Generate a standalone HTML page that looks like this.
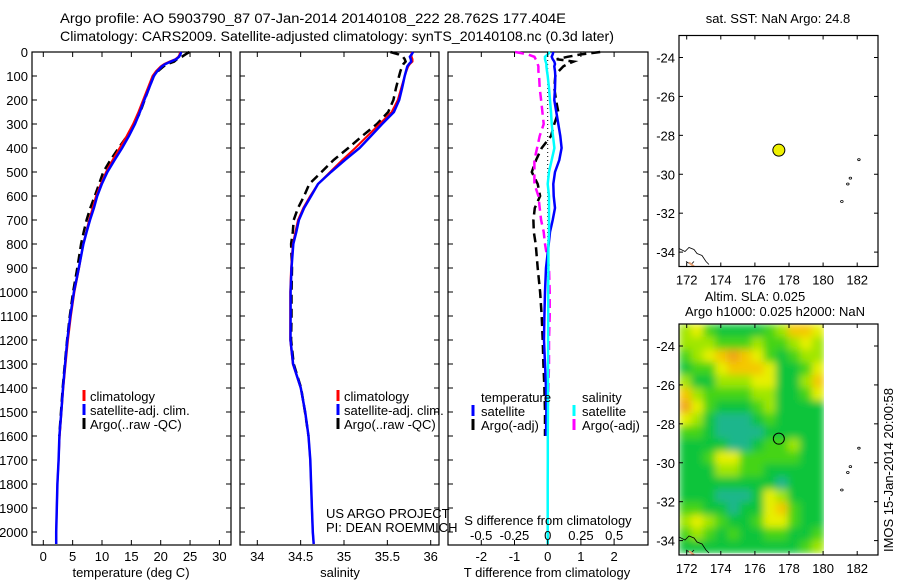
<!DOCTYPE html>
<html><head><meta charset="utf-8"><style>
html,body{margin:0;padding:0;background:#fff;}
svg{display:block;font-family:"Liberation Sans",Arial,sans-serif;}
text{font-size:13px;fill:#000;}
</style></head><body>
<svg id="fig" width="900" height="580" viewBox="0 0 900 580" xmlns="http://www.w3.org/2000/svg">
<defs>
<filter id="blur" x="0" y="0" width="1" height="1"><feGaussianBlur stdDeviation="4" edgeMode="duplicate"/></filter>
<clipPath id="heatclip"><rect x="679" y="324" width="145" height="231"/></clipPath>
</defs>
<rect width="900" height="580" fill="#fff"/>
<text x="60" y="23" style="font-size:14px" textLength="506" lengthAdjust="spacingAndGlyphs">Argo profile: AO 5903790_87 07-Jan-2014 20140108_222 28.762S 177.404E</text>
<text x="60" y="41" style="font-size:14px" textLength="554" lengthAdjust="spacingAndGlyphs">Climatology: CARS2009. Satellite-adjusted climatology: synTS_20140108.nc (0.3d later)</text>
<g id="g"></g>
</svg>
<script>
// ---- profile data ----
const depths = [0,10,20,30,40,50,60,80,100,150,200,250,300,350,400,450,500,550,600,650,700,750,800,900,1000,1100,1200,1300,1400,1500,1600,1700,1800,1900,2000,2050];
const tempClim = [23.3,23.2,23.0,22.5,21.5,20.6,20.0,19.2,18.6,17.8,17.0,16.2,15.3,14.2,13.0,11.8,10.7,9.8,9.0,8.4,7.8,7.3,6.8,6.1,5.3,4.7,4.2,3.8,3.4,3.1,2.8,2.6,2.4,2.3,2.2,2.2];
const tempSatDiff = [0.17,0.15,0.12,0.15,0.2,0.22,0.2,0.22,0.23,0.22,0.2,0.26,0.32,0.38,0.42,0.35,0.22,0.17,0.18,0.22,0.15,0.07,0.03,-0.05,-0.08,-0.1,-0.11,-0.08,-0.05,-0.04,-0.05,null,null,null,null,null];
const tempArgoDiff = [1.58,1.0,0.6,0.27,0.78,0.6,0.47,0.33,0.23,0.2,0.25,0.32,0.2,0.1,-0.18,-0.35,-0.48,-0.3,-0.23,-0.39,-0.43,-0.42,-0.36,-0.3,-0.23,-0.18,-0.15,-0.13,-0.1,-0.08,-0.08,null,null,null,null,null];
const salClim = [35.78,35.78,35.78,35.79,35.79,35.76,35.74,35.72,35.70,35.66,35.62,35.55,35.41,35.27,35.13,34.98,34.84,34.70,34.61,34.53,34.47,34.44,34.41,34.39,34.38,34.38,34.38,34.41,34.5,34.55,34.59,34.61,34.62,34.63,34.64,34.65];
const salSatDiff = [0.017,0,-0.02,-0.02,-0.015,-0.01,-0.01,-0.005,0,0.01,0.017,0.025,0.03,0.04,0.05,0.03,0.01,0,0.01,0.01,0.01,0.01,0.005,0.005,0.004,0.004,0.003,0.003,0.002,0.002,0.001,0.001,0,0,0,0];
const salArgoDiff = [-0.245,-0.15,-0.1,-0.09,-0.08,-0.075,-0.07,-0.07,-0.065,-0.06,-0.05,-0.04,-0.03,-0.06,-0.08,-0.1,-0.1,-0.1,-0.07,-0.06,-0.05,-0.03,-0.02,0.01,0.015,0.015,0.01,0.01,0.005,0,0,null,null,null,null,null];
const depthTicks = [0,100,200,300,400,500,600,700,800,900,1000,1100,1200,1300,1400,1500,1600,1700,1800,1900,2000];
const tempTicks = [0,5,10,15,20,25,30];
const salTicks = [34,34.5,35,35.5,36];
const tdiffTicks = [-2,-1,0,1,2];
const sdiffTicks = [-0.5,-0.25,0,0.25,0.5];
// ---- map data ----
const lonTicks = [172,174,176,178,180,182];
const latTicks = [-24,-26,-28,-30,-32,-34];
const argoLon = 177.404, argoLat = -28.762;
const slaGrid = [
[3,4,2,1,1,1,1,2,3,5,5,4],
[3,3,3,2,2,2,3,2,2,3,4,3],
[2,3,4,5,6,5,4,2,1,2,3,3],
[1,2,2,4,5,5,5,4,1,1,2,4],
[3,1,1,3,3,3,4,4,1,1,3,5],
[5,3,2,2,2,2,3,3,1,1,2,4],
[6,4,2,1,1,1,2,3,1,1,1,1],
[4,3,1,0,0,0,1,2,1,1,1,1],
[2,2,1,0,0,0,0,1,1,1,1,1],
[1,1,1,1,0,0,1,2,2,3,1,1],
[1,1,2,4,4,2,2,2,2,2,1,1],
[1,1,1,3,3,2,2,1,1,1,1,1],
[1,1,1,1,1,1,1,1,0,1,1,1],
[1,1,1,0,0,0,1,4,3,1,1,1],
[2,2,1,1,0,1,1,4,5,2,1,1],
[3,4,3,2,1,1,2,4,4,2,1,1],
[2,3,2,1,2,1,1,2,2,1,1,2],
[1,1,1,1,1,1,1,1,1,1,2,3]];
const slaColors = ['#1cb68c','#10c43a','#44d418','#a0e600','#e6f000','#f4c800','#f0a414'];

const NS='http://www.w3.org/2000/svg';
const G=document.getElementById('g');
function el(tag,attrs,parent){const e=document.createElementNS(NS,tag);for(const k in attrs)e.setAttribute(k,attrs[k]);(parent||G).appendChild(e);return e;}
function txt(x,y,s,anchor,parent){const t=el('text',{x:x,y:y,'text-anchor':anchor||'start'},parent);t.textContent=s;return t;}

const yTop=52, yBot=545, pxPer=0.24;
const yD=d=>yTop+d*pxPer;
const panels=[
 {x0:32,x1:231,name:'temperature-panel',sx:v=>43.3+v*5.87},
 {x0:240,x1:439,name:'salinity-panel',sx:v=>257.3+(v-34)*86.7},
 {x0:448,x1:648,name:'difference-panel',sx:v=>547.7+v*33.2}
];
const sdx=v=>547.7+v*133;

panels.forEach((p,i)=>{
 const g=el('g',{});
 
 
 const r=el('rect',{x:p.x0,y:yTop,width:p.x1-p.x0,height:yBot-yTop,fill:'none',stroke:'#000','stroke-width':1.2},g);
 
 
 depthTicks.forEach(d=>{
  const y=yD(d);
  el('line',{x1:p.x0,x2:p.x0+5,y1:y,y2:y,stroke:'#000'},g);
  el('line',{x1:p.x1,x2:p.x1-5,y1:y,y2:y,stroke:'#000'},g);
  if(i===0){const t=txt(28,y+5,String(d),'end',g);}
 });
});

function drawLine(xs,ys,stroke,w,dash,name){
 let d='',pen=false;
 for(let k=0;k<xs.length;k++){
  if(xs[k]===null){pen=false;continue;}
  d+=(pen?'L':'M')+xs[k].toFixed(1)+' '+ys[k].toFixed(1);pen=true;
 }
 const a={d:d,fill:'none',stroke:stroke,'stroke-width':w};
 if(dash)a['stroke-dasharray']=dash;
 const p=el('path',a);
 
 
}
const Y=depths.map(yD);
const P1=panels[0],P2=panels[1],P3=panels[2];
drawLine(depths.map((d,k)=>tempArgoDiff[k]===null?null:P1.sx(tempClim[k]+tempArgoDiff[k])),Y,'#000',2.5,'9 5','temperature-argo-line');
drawLine(tempClim.map(v=>P1.sx(v)),Y,'#f00',2,null,'temperature-climatology-line');
drawLine(depths.map((d,k)=>P1.sx(tempClim[k]+(tempSatDiff[k]||0))),Y,'#00f',2.5,null,'temperature-satellite-line');
drawLine(depths.map((d,k)=>salArgoDiff[k]===null?null:P2.sx(salClim[k]+salArgoDiff[k])),Y,'#000',2.5,'9 5','salinity-argo-line');
drawLine(salClim.map(v=>P2.sx(v)),Y,'#f00',2,null,'salinity-climatology-line');
drawLine(depths.map((d,k)=>P2.sx(salClim[k]+salSatDiff[k])),Y,'#00f',2.5,null,'salinity-satellite-line');
el('line',{x1:P3.sx(0),x2:P3.sx(0),y1:yTop,y2:yBot,stroke:'#000','stroke-dasharray':'1 3'});
drawLine(tempArgoDiff.map(v=>v===null?null:P3.sx(v)),Y,'#000',2.5,'9 5','temp-diff-argo-line');
drawLine(salArgoDiff.map(v=>v===null?null:sdx(v)),Y,'#f0f',2.5,'9 5','sal-diff-argo-line');
drawLine(tempSatDiff.map(v=>v===null?null:P3.sx(v)),Y,'#00f',2.5,null,'temp-diff-satellite-line');
drawLine(salSatDiff.map(v=>sdx(v)),Y,'#0ff',2.5,null,'sal-diff-satellite-line');

function xTicks(ticks,fx,labels){
 ticks.forEach(v=>{
  const x=fx(v);
  el('line',{x1:x,x2:x,y1:yBot,y2:yBot-5,stroke:'#000'});
  el('line',{x1:x,x2:x,y1:yTop,y2:yTop+5,stroke:'#000'});
  if(labels){const t=txt(x,561,String(v),'middle');}
 });
}
xTicks(tempTicks,P1.sx,true);
xTicks(salTicks,P2.sx,true);
xTicks(tdiffTicks,P3.sx,true);
sdiffTicks.forEach(v=>{const t=txt(sdx(v),540,String(v),'middle');});
let t;
t=txt(131,577,'temperature (deg C)','middle');
t=txt(340,577,'salinity','middle');
t=txt(547,577,'T difference from climatology','middle');
t=txt(548,525,'S difference from climatology','middle');
t=txt(326,518,'US ARGO PROJECT');
t=txt(326,532,'PI: DEAN ROEMMICH');

function legendEntry(bx,tx,y,color,label){
 const g=el('g',{});
 
 
 el('rect',{x:bx-1.5,y:y-11,width:3,height:11,fill:color},g);
 txt(tx,y,label,'start',g);
}
[[ '#f00','climatology'],['#00f','satellite-adj. clim.'],['#000','Argo(..raw -QC)']].forEach((e,k)=>{
 legendEntry(84,90,401+k*14,e[0],e[1]);
 legendEntry(338,344,401+k*14,e[0],e[1]);
});
t=txt(481,402,'temperature');
t=txt(582,402,'salinity');
legendEntry(473,481,416,'#00f','satellite');
legendEntry(473,481,430,'#000','Argo(-adj)');
legendEntry(574,582,416,'#0ff','satellite');
legendEntry(574,582,430,'#f0f','Argo(-adj)');

const mx=lon=>686.7+(lon-172)*17.05;
function drawMap(yOffTop,name,heat){
 const top=yOffTop, bot=yOffTop+231;
 const my=lat=>top+22+(-24-lat)*19.46;
 const g=el('g',{});
 
 
 if(heat){
  const cg=el('g',{'clip-path':'url(#heatclip)'},g);
  const hg=el('g',{filter:'url(#blur)'},cg);
  const cw=145/12, ch=(bot-top-2)/18;
  slaGrid.forEach((row,r)=>row.forEach((v,c)=>{
   const cell=el('rect',{x:679+c*cw,y:top+r*ch,width:cw+0.5,height:ch+0.5,fill:slaColors[v]},hg);
   
   
  }));
 }
 el('path',{d:`M679 ${bot-18} l6 3 l4 -4 l5 2 l3 4 l5 2 l4 6 l3 3 M686 ${bot-5} l5 3 l3 -3`,fill:'none',stroke:'#000','stroke-width':0.8},g);
 el('path',{d:`M689 ${bot-4} l5 4`,stroke:'#e8a070','stroke-width':2},g);
 [[182.1,-29.25],[181.6,-30.2],[181.45,-30.5],[181.1,-31.4]].forEach(p=>{
  el('ellipse',{cx:mx(p[0]),cy:my(p[1]),rx:1.3,ry:1,fill:'none',stroke:'#000','stroke-width':0.8},g);
 });
 const f=el('rect',{x:679,y:top,width:199,height:bot-top,fill:'none',stroke:'#000','stroke-width':1.2},g);
 
 
 lonTicks.forEach(l=>{const x=mx(l);el('line',{x1:x,x2:x,y1:bot,y2:bot-4,stroke:'#000'},g);el('line',{x1:x,x2:x,y1:top,y2:top+4,stroke:'#000'},g);
  const tl=txt(x,bot+18,String(l),'middle',g);});
 latTicks.forEach(l=>{const y=my(l);el('line',{x1:679,x2:683,y1:y,y2:y,stroke:'#000'},g);el('line',{x1:878,x2:874,y1:y,y2:y,stroke:'#000'},g);
  const tl=txt(675,y+5,String(l),'end',g);});
 const dot=el('circle',{cx:mx(argoLon),cy:my(argoLat),r:heat?5.5:6,fill:heat?'none':'#eef000',stroke:'#000','stroke-width':1},g);
 
 
}
drawMap(35.5,'sst-map',false);
drawMap(324,'sla-map',true);
t=txt(778,23,'sat. SST: NaN Argo: 24.8','middle');
t=txt(755,301,'Altim. SLA: 0.025','middle');
t=txt(775,316,'Argo h1000: 0.025 h2000: NaN','middle');
t=txt(0,0,'IMOS 15-Jan-2014 20:00:58','middle');
t.setAttribute('transform','translate(893,470) rotate(-90)');


</script>
</body></html>
